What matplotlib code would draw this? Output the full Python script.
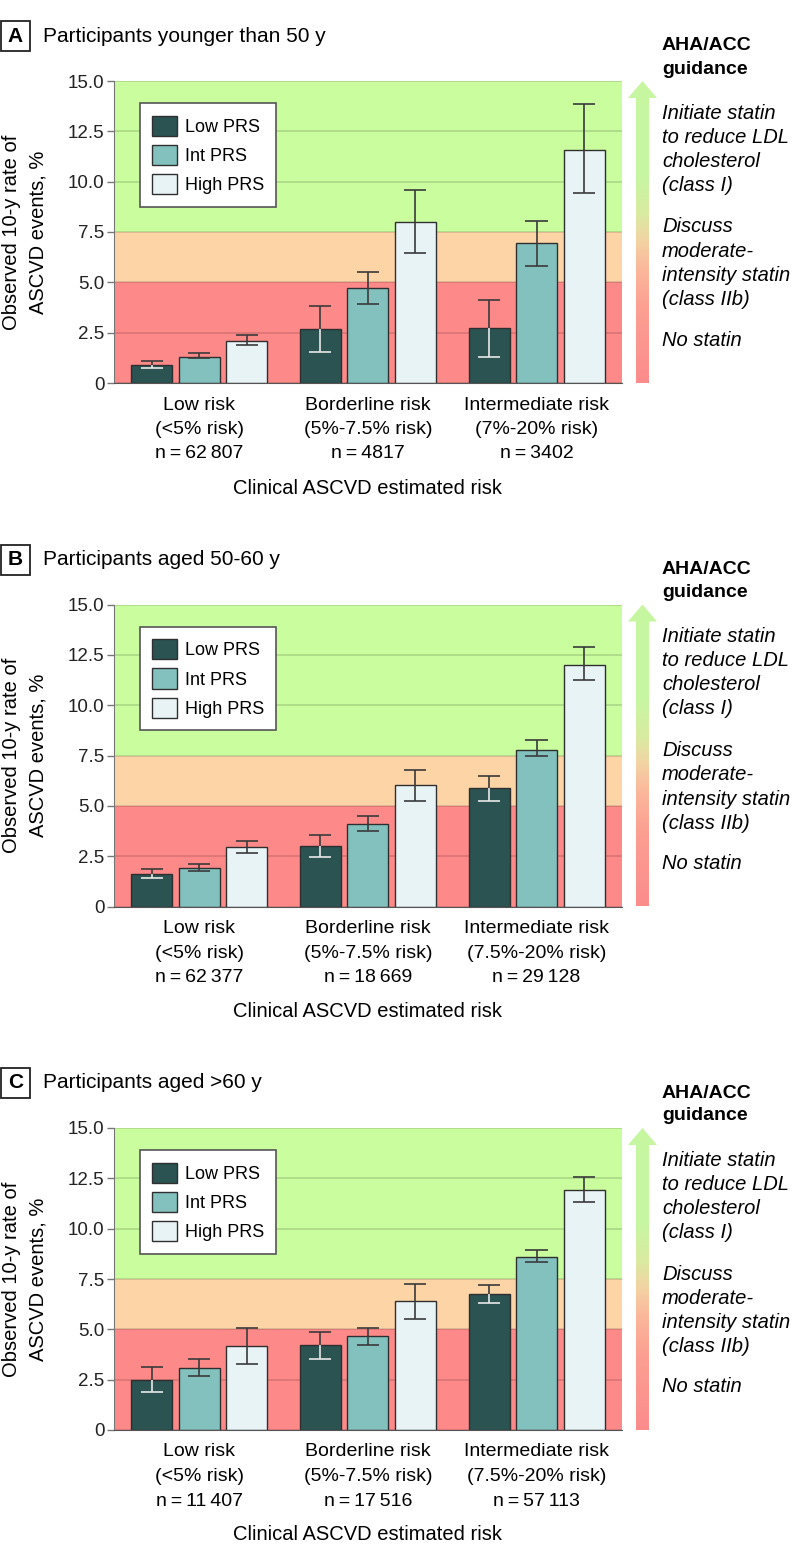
import numpy as np
import matplotlib
matplotlib.use("Agg")
import matplotlib.pyplot as plt
from matplotlib.patches import Rectangle, Polygon
from matplotlib.colors import LinearSegmentedColormap

plt.rcParams['font.family'] = ['Liberation Sans', 'DejaVu Sans']

######## DATA
prs_names = ["Low PRS", "Int PRS", "High PRS"]
risk_names = ["Low risk", "Borderline risk", "Intermediate risk"]
risk_ranges_a = ["(<5% risk)", "(5%-7.5% risk)", "(7%-20% risk)"]
risk_ranges_bc = ["(<5% risk)", "(5%-7.5% risk)", "(7.5%-20% risk)"]
panel_titles = ["Participants younger than 50 y", "Participants aged 50-60 y", "Participants aged >60 y"]
panel_letters = ["A", "B", "C"]
n_a = ["62\u2009807", "4817", "3402"]
n_b = ["62\u2009377", "18\u2009669", "29\u2009128"]
n_c = ["11\u2009407", "17\u2009516", "57\u2009113"]

# panel A (<50 y)
a_low = [0.88, 2.67, 2.73]
a_low_lo = [0.73, 1.56, 1.31]
a_low_hi = [1.08, 3.84, 4.11]
a_int = [1.29, 4.72, 6.97]
a_int_lo = [1.23, 3.94, 5.83]
a_int_hi = [1.47, 5.50, 8.03]
a_high = [2.09, 7.98, 11.59]
a_high_lo = [1.87, 6.47, 9.42]
a_high_hi = [2.37, 9.60, 13.84]

# panel B (50-60 y)
b_low = [1.62, 3.00, 5.89]
b_low_lo = [1.42, 2.47, 5.25]
b_low_hi = [1.87, 3.56, 6.49]
b_int = [1.89, 4.09, 7.78]
b_int_lo = [1.77, 3.76, 7.47]
b_int_hi = [2.09, 4.50, 8.26]
b_high = [2.98, 6.01, 11.98]
b_high_lo = [2.65, 5.25, 11.25]
b_high_hi = [3.26, 6.77, 12.88]

# panel C (>60 y)
c_low = [2.50, 4.21, 6.75]
c_low_lo = [1.89, 3.54, 6.29]
c_low_hi = [3.11, 4.88, 7.22]
c_int = [3.10, 4.69, 8.58]
c_int_lo = [2.70, 4.24, 8.33]
c_int_hi = [3.53, 5.05, 8.96]
c_high = [4.19, 6.39, 11.90]
c_high_lo = [3.28, 5.53, 11.33]
c_high_hi = [5.05, 7.24, 12.55]

y_ticks = [0, 2.5, 5.0, 7.5, 10.0, 12.5, 15.0]
y_tick_labels = ["0", "2.5", "5.0", "7.5", "10.0", "12.5", "15.0"]

guide_top = ["Initiate statin", "to reduce LDL", "cholesterol", "(class I)"]
guide_mid = ["Discuss", "moderate-", "intensity statin", "(class IIb)"]
guide_low = ["No statin"]

######## STYLE
bar_cols = ["#2a5352", "#83c1bf", "#e8f3f5"]
band_red = "#fe8989"
band_orange = "#fdd4a6"
band_green = "#c9fd9d"
err_dark = "#3a3a3a"

arrow_cmap = LinearSegmentedColormap.from_list("guide", [
    (0.00, "#fb8c8c"), (0.25, "#fca092"), (0.38, "#fbb89b"), (0.47, "#f3d3a3"),
    (0.56, "#d9eba1"), (0.68, "#c8f6a2"), (1.00, "#c6f7a0")])

W, H = 794, 1563
fig = plt.figure(figsize=(W / 100, H / 100), dpi=100)


def fx(x):
    return x / W


def fy(y):
    return 1 - y / H


AX_L, AX_R, AX_H = 114, 621.7, 302
tops = [81, 604.5, 1128]

panels = [
    (a_low, a_low_lo, a_low_hi, a_int, a_int_lo, a_int_hi, a_high, a_high_lo, a_high_hi, risk_ranges_a, n_a),
    (b_low, b_low_lo, b_low_hi, b_int, b_int_lo, b_int_hi, b_high, b_high_lo, b_high_hi, risk_ranges_bc, n_b),
    (c_low, c_low_lo, c_low_hi, c_int, c_int_lo, c_int_hi, c_high, c_high_lo, c_high_hi, risk_ranges_bc, n_c),
]

for p, data in enumerate(panels):
    T = tops[p]
    B = T + AX_H
    ax = fig.add_axes([fx(AX_L), fy(B), (AX_R - AX_L) / W, AX_H / H])

    # guidance bands
    ax.axhspan(0, 5, color=band_red, zorder=0, lw=0)
    ax.axhspan(5, 7.5, color=band_orange, zorder=0, lw=0)
    ax.axhspan(7.5, 15, color=band_green, zorder=0, lw=0)
    ax.set_axisbelow(True)
    ax.yaxis.grid(True, color="k", alpha=0.13, lw=1.4)

    x = np.arange(len(risk_names))
    series = [data[0:3], data[3:6], data[6:9]]
    for k, (vals, lo, hi) in enumerate(series):
        xs = x + (k - 1) * 0.2816
        ax.bar(xs, vals, width=0.243, color=bar_cols[k], edgecolor="#2f2f2f",
               linewidth=1, label=prs_names[k], zorder=2)
        lower_col = "#e8e8e8" if k == 0 else err_dark
        ax.vlines(xs, vals, hi, color=err_dark, lw=1.2, zorder=3)
        ax.vlines(xs, lo, vals, color=lower_col, lw=1.2, zorder=3)
        ax.hlines(hi, xs - 0.066, xs + 0.066, color=err_dark, lw=1.2, zorder=3)
        ax.hlines(lo, xs - 0.066, xs + 0.066, color=lower_col, lw=1.2, zorder=3)

    ax.set_xlim(-0.505, 2.505)
    ax.set_ylim(0, 15)
    ax.set_yticks(y_ticks)
    ax.set_yticklabels(y_tick_labels, fontsize=13.5, color="#222")
    ax.set_xticks([])
    ax.tick_params(axis="y", length=5, width=1, color="#777", pad=2)
    ax.spines["top"].set_visible(False)
    ax.spines["right"].set_visible(False)
    ax.spines["left"].set_color("#777")
    ax.spines["bottom"].set_color("#555")
    ax.spines["bottom"].set_linewidth(0.8)

    leg = ax.legend(loc="upper left", bbox_to_anchor=((140 - AX_L) / (AX_R - AX_L), 1 - 22.3 / AX_H),
                    borderaxespad=0, fontsize=13, handlelength=1.35, handleheight=1.35,
                    labelspacing=0.5, handletextpad=0.45, borderpad=0.68, fancybox=False,
                    framealpha=1, edgecolor="#555")
    leg.get_frame().set_linewidth(1.2)

    # x category labels
    ranges = data[9]
    ns = data[10]
    for g in range(len(risk_names)):
        xc = fx(AX_L + (g + 0.505) / 3.01 * (AX_R - AX_L))
        fig.text(xc, fy(B + 22), risk_names[g], ha="center", va="center", fontsize=14)
        fig.text(xc, fy(B + 46.5), ranges[g], ha="center", va="center", fontsize=14)
        fig.text(xc, fy(B + 71), "n\u2009=\u2009" + ns[g], ha="center", va="center", fontsize=14)
    fig.text(fx((AX_L + AX_R) / 2), fy(B + 105), "Clinical ASCVD estimated risk",
             ha="center", va="center", fontsize=14.5)

    # y label
    fig.text(fx(12), fy((T + B) / 2), "Observed 10-y rate of", rotation=90,
             ha="center", va="center", fontsize=14.5)
    fig.text(fx(38), fy((T + B) / 2), "ASCVD events, %", rotation=90,
             ha="center", va="center", fontsize=14.5)

    # panel header
    fig.add_artist(Rectangle((fx(1), fy(T - 30)), 29 / W, 30 / H, transform=fig.transFigure,
                             fill=False, edgecolor="#222", lw=1.3))
    fig.text(fx(15.5), fy(T - 45), panel_letters[p], ha="center", va="center",
             fontsize=15, fontweight="bold")
    fig.text(fx(43), fy(T - 45), panel_titles[p], ha="left", va="center", fontsize=15)

    # gradient arrow
    ax2 = fig.add_axes([fx(626), fy(B), 33 / W, AX_H / H])
    ax2.axis("off")
    ax2.set_xlim(0, 33)
    ax2.set_ylim(0, AX_H)
    grad = np.linspace(0, 1, 256).reshape(-1, 1)
    im = ax2.imshow(grad, cmap=arrow_cmap, extent=[0, 33, 0, AX_H], origin="lower", aspect="auto")
    head = AX_H - 17
    poly = Polygon([(10, 0), (23, 0), (23, head), (31, head), (16.5, AX_H), (2, head), (10, head)],
                   closed=True, facecolor="none", edgecolor="none", transform=ax2.transData)
    ax2.add_patch(poly)
    im.set_clip_path(poly)

    # guidance text
    fig.text(fx(662), fy(T - 35), "AHA/ACC", ha="left", va="center", fontsize=14, fontweight="bold")
    fig.text(fx(662), fy(T - 12), "guidance", ha="left", va="center", fontsize=14, fontweight="bold")
    for i, line in enumerate(guide_top):
        fig.text(fx(662), fy(T + 32.5 + 24 * i), line, ha="left", va="center", fontsize=14.5, style="italic")
    for i, line in enumerate(guide_mid):
        fig.text(fx(662), fy(T + 146 + 24.3 * i), line, ha="left", va="center", fontsize=14.5, style="italic")
    for i, line in enumerate(guide_low):
        fig.text(fx(662), fy(T + 259 + 24 * i), line, ha="left", va="center", fontsize=14.5, style="italic")

fig.savefig("out.png", dpi=100)
